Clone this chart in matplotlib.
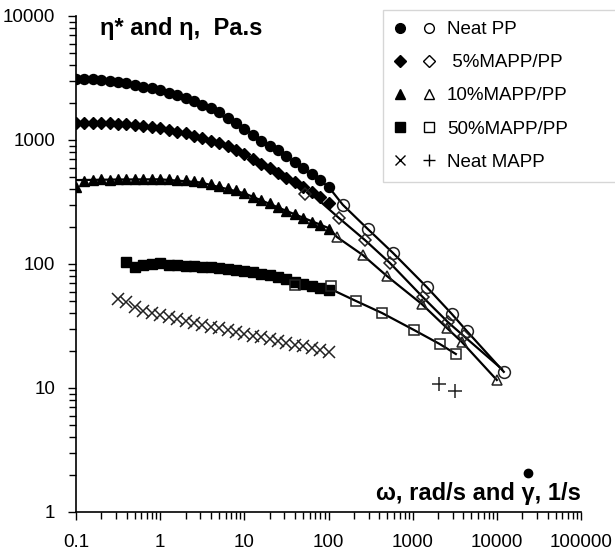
import matplotlib
matplotlib.use('Agg')
import matplotlib.pyplot as plt
from matplotlib.lines import Line2D
from matplotlib.legend_handler import HandlerTuple
from matplotlib.ticker import LogLocator, FixedLocator, NullFormatter

plt.rcParams['font.family'] = ['Liberation Sans', 'DejaVu Sans']

# ---- data ----
omega = [0.1, 0.126, 0.158, 0.2, 0.251, 0.316, 0.398, 0.501, 0.631, 0.794,
         1.0, 1.26, 1.58, 2.0, 2.51, 3.16, 3.98, 5.01, 6.31, 7.94,
         10, 12.6, 15.8, 20, 25.1, 31.6, 39.8, 50.1, 63.1, 79.4, 100]

pp_dyn = [3100, 3100, 3080, 3040, 2990, 2930, 2860, 2780, 2700, 2610,
          2510, 2400, 2290, 2170, 2050, 1930, 1800, 1670, 1510, 1370,
          1230, 1100, 990, 900, 830, 745, 665, 600, 535, 476, 418]
m5_dyn = [1370, 1370, 1370, 1365, 1360, 1350, 1340, 1320, 1300, 1275,
          1245, 1210, 1170, 1130, 1085, 1040, 990, 945, 890, 835,
          770, 700, 640, 590, 540, 495, 455, 418, 380, 345, 310]
m10_dyn = [420, 470, 480, 482, 480, 482, 485, 487, 487, 487,
           485, 482, 478, 472, 465, 455, 443, 428, 410, 392,
           372, 350, 330, 310, 290, 270, 252, 236, 220, 205, 192]
omega50 = omega[6:]
m50_dyn = [104, 95, 99, 100, 101, 99, 98, 97, 96, 95, 94, 93, 91, 90,
           88, 86, 83, 81, 78, 75, 72, 69, 67, 64, 62]
omega_mapp = omega[5:]
mapp_dyn = [52, 49, 45, 42, 40, 38.5, 37.2, 36, 34.8, 33.6, 32.5, 31.3, 30.2,
            29.2, 28.3, 27.4, 26.5, 25.6, 24.8, 24, 23.2, 22.4, 21.7, 21, 20.2, 19.5]

# steady shear (open symbols)
pp_rate = [148, 294, 582, 1476, 2922, 4400, 12100]
pp_steady = [300, 191, 123, 65, 39.5, 28.8, 13.5]
m5_rate = [52.5, 133, 271, 536, 1321, 2620, 4055]
m5_steady = [367, 235, 156, 102, 54, 34, 26.2]
m10_rate = [126, 256, 494, 1285, 2547, 3840, 10000]
m10_steady = [165, 118, 80, 47.5, 30.5, 23.5, 11.6]
m50_rate = [40, 107, 211, 431, 1033, 2105, 3258]
m50_steady = [67.8, 66.5, 50.4, 40.3, 29.4, 22.6, 18.8]
mapp_rate = [2047, 3170]
mapp_steady = [10.8, 9.5]

# fitted curves (solid lines)
pp_fit_x = [0.1, 0.3, 1, 3, 10, 30, 100, 148, 294, 582, 1476, 2922, 4400, 12100]
pp_fit_y = [3000, 2900, 2480, 1950, 1240, 760, 420, 300, 191, 123, 65, 39.5, 28.8, 13.5]
m5_fit_x = [0.1, 0.3, 1, 3, 10, 30, 52.5, 133, 271, 536, 1321, 2620, 4055, 11500]
m5_fit_y = [1360, 1350, 1240, 1045, 770, 500, 410, 235, 156, 102, 54, 34, 26.2, 14.2]
m10_fit_x = [0.1, 0.3, 1, 3, 10, 30, 100, 126, 256, 494, 1285, 2547, 3840, 10000]
m10_fit_y = [475, 480, 482, 455, 372, 272, 195, 165, 118, 80, 47.5, 30.5, 23.5, 11.6]
m50_fit_x = [0.4, 1, 3, 10, 30, 100, 211, 431, 1033, 2105, 3258]
m50_fit_y = [100, 100, 95, 88, 76, 64, 50.4, 40.3, 29.4, 22.6, 18.8]

labels = ['Neat PP', ' 5%MAPP/PP', '10%MAPP/PP', '50%MAPP/PP', 'Neat MAPP']

# ---- figure ----
fig = plt.figure(figsize=(6.15, 5.56), dpi=100)
ax = fig.add_axes([76 / 615, 1 - 512 / 556, (581 - 76) / 615, (512 - 16) / 556])
ax.set_xscale('log')
ax.set_yscale('log')
ax.set_xlim(0.1, 100000)
ax.set_ylim(1, 10000)

lw_fit = 1.6
for fx, fy in [(pp_fit_x, pp_fit_y), (m5_fit_x, m5_fit_y),
               (m10_fit_x, m10_fit_y), (m50_fit_x, m50_fit_y)]:
    ax.plot(fx, fy, '-', color='black', lw=lw_fit, zorder=2)

filled_kw = dict(ls='none', color='black', zorder=3)
ax.plot(omega, pp_dyn, marker='o', ms=7.2, **filled_kw)
ax.plot(omega, m5_dyn, marker='D', ms=6.3, **filled_kw)
ax.plot(omega, m10_dyn, marker='^', ms=7.5, **filled_kw)
ax.plot(omega50, m50_dyn, marker='s', ms=6.5, **filled_kw)
ax.plot(omega_mapp, mapp_dyn, marker='x', ms=8, mew=1.1, ls='none', color='#222222', zorder=3)

open_kw = dict(ls='none', mfc='none', mec='#222222', mew=1.1, zorder=4)
ax.plot(pp_rate, pp_steady, marker='o', ms=8.5, **open_kw)
ax.plot(m5_rate, m5_steady, marker='D', ms=6, **open_kw)
ax.plot(m10_rate, m10_steady, marker='^', ms=7.5, **open_kw)
ax.plot(m50_rate, m50_steady, marker='s', ms=7, **open_kw)
ax.plot(mapp_rate, mapp_steady, marker='+', ms=10, mew=1.1, ls='none', color='#222222', zorder=4)

# axes styling
for s in ['top', 'right']:
    ax.spines[s].set_visible(False)
for s in ['left', 'bottom']:
    ax.spines[s].set_linewidth(1.2)
ax.xaxis.set_major_locator(FixedLocator([0.1, 1, 10, 100, 1000, 10000, 100000]))
ax.yaxis.set_major_locator(FixedLocator([1, 10, 100, 1000, 10000]))
ax.xaxis.set_minor_locator(LogLocator(base=10, subs=range(2, 10), numticks=20))
ax.yaxis.set_minor_locator(LogLocator(base=10, subs=range(2, 10), numticks=20))
ax.xaxis.set_minor_formatter(NullFormatter())
ax.yaxis.set_minor_formatter(NullFormatter())
ax.set_xticklabels(['0.1', '1', '10', '100', '1000', '10000', '100000'])
ax.set_yticklabels(['1', '10', '100', '1000', '10000'])
ax.tick_params(which='both', direction='out', width=1.0, labelsize=13.5, colors='black')
ax.tick_params(which='major', length=6)
ax.tick_params(which='minor', length=5)
ax.tick_params(axis='x', which='major', pad=10)
ax.tick_params(axis='y', which='major', pad=9)

ax.text((100 - 76) / 505, 0.975, 'η* and η,  Pa.s', transform=ax.transAxes,
        fontsize=17, fontweight='bold', ha='left', va='center')
xl_kw = dict(fontsize=17, fontweight='bold', ha='right', va='baseline')
xl_pos = (1.0, (512 - 500) / 496)
xl = ax.text(*xl_pos, 'ω, rad/s and γ, 1/s', transform=ax.transAxes, **xl_kw)

# legend
h = [
    (Line2D([], [], marker='o', ls='none', color='black', ms=7),
     Line2D([], [], marker='o', ls='none', mfc='none', mec='black', ms=7)),
    (Line2D([], [], marker='D', ls='none', color='black', ms=6),
     Line2D([], [], marker='D', ls='none', mfc='none', mec='black', ms=6)),
    (Line2D([], [], marker='^', ls='none', color='black', ms=7),
     Line2D([], [], marker='^', ls='none', mfc='none', mec='black', ms=7)),
    (Line2D([], [], marker='s', ls='none', color='black', ms=6.5),
     Line2D([], [], marker='s', ls='none', mfc='none', mec='black', ms=6.5)),
    (Line2D([], [], marker='x', ls='none', color='black', ms=7),
     Line2D([], [], marker='+', ls='none', color='black', ms=9)),
]
top = 1 - 10 / 556
leg = fig.legend(h, labels, handler_map={tuple: HandlerTuple(ndivide=None, pad=0.9)},
                 loc='upper left', bbox_to_anchor=(383 / 615, top - 0.4, 0.6, 0.4),
                 mode='expand', fontsize=13.5, frameon=True, fancybox=False,
                 edgecolor='#cccccc', handlelength=2.2, handletextpad=0.6,
                 labelspacing=0.85, borderpad=0.6, borderaxespad=0)
leg.get_frame().set_linewidth(1.0)

# dot over gamma
fig.canvas.draw()
r = fig.canvas.get_renderer()
tmp = ax.text(*xl_pos, 'γ, 1/s', transform=ax.transAxes, alpha=0, **xl_kw)
g_left = tmp.get_window_extent(r).x0
tmp.remove()
tmp = ax.text(*xl_pos, ', 1/s', transform=ax.transAxes, alpha=0, **xl_kw)
g_right = tmp.get_window_extent(r).x0
tmp.remove()
gx = (g_left + g_right) / 2
base_y = ax.transAxes.transform(xl_pos)[1]
gy = base_y + 27
fig.add_artist(Line2D([gx / fig.bbox.width], [gy / fig.bbox.height], marker='o',
                      ms=6, color='black', ls='none', transform=fig.transFigure))

fig.savefig('out.png', dpi=100)
